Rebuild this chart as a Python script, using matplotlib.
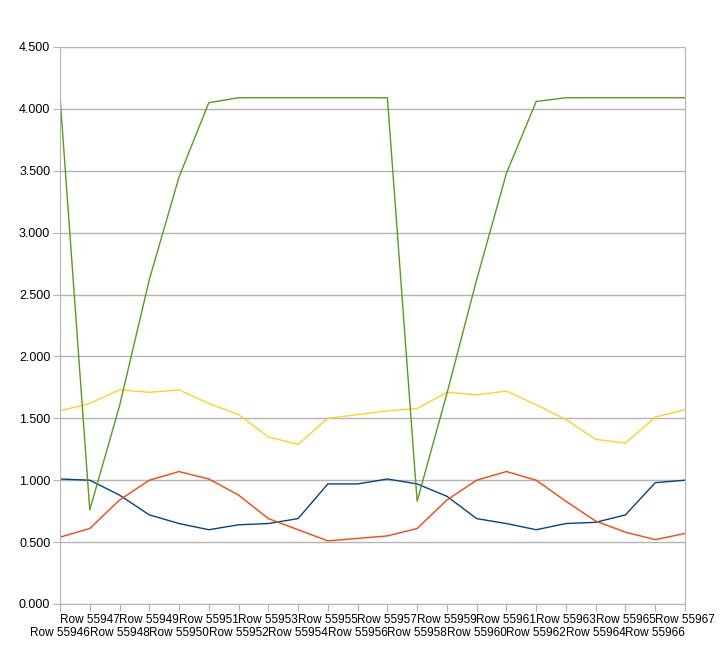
import matplotlib
matplotlib.use("Agg")
import matplotlib.pyplot as plt
from matplotlib.ticker import MultipleLocator, FormatStrFormatter

categories = ["Row %d" % n for n in range(55946, 55968)]

blue = [1.01, 1.00, 0.88, 0.72, 0.65, 0.60, 0.64, 0.65, 0.69, 0.97, 0.97, 1.01,
        0.97, 0.87, 0.69, 0.65, 0.60, 0.65, 0.66, 0.72, 0.98, 1.00]
red = [0.54, 0.61, 0.84, 1.00, 1.07, 1.01, 0.88, 0.69, 0.60, 0.51, 0.53, 0.55,
       0.61, 0.84, 1.00, 1.07, 1.00, 0.83, 0.67, 0.58, 0.52, 0.57]
yellow = [1.56, 1.62, 1.73, 1.71, 1.73, 1.62, 1.53, 1.35, 1.29, 1.50, 1.53, 1.56,
          1.58, 1.71, 1.69, 1.72, 1.61, 1.49, 1.33, 1.30, 1.51, 1.57]
green = [4.10, 0.76, 1.60, 2.62, 3.45, 4.05, 4.09, 4.09, 4.09, 4.09, 4.09, 4.09,
         0.83, 1.70, 2.62, 3.48, 4.06, 4.09, 4.09, 4.09, 4.09, 4.09]

plt.rcParams['font.family'] = ['Liberation Sans', 'DejaVu Sans']

fig = plt.figure(figsize=(7.27, 6.62), dpi=100)
ax = fig.add_axes([60/727, 1-604/662, 625/727, 557/662])

x = list(range(len(categories)))
ax.plot(x, blue, color="#004586", lw=1.0)
ax.plot(x, red, color="#ff420e", lw=1.0)
ax.plot(x, yellow, color="#ffd320", lw=1.0)
ax.plot(x, green, color="#579d1c", lw=1.0)

ax.set_xlim(0, len(categories)-1)
ax.set_ylim(0, 4.5)
ax.yaxis.set_major_locator(MultipleLocator(0.5))
ax.yaxis.set_major_formatter(FormatStrFormatter('%.3f'))
ax.grid(axis='y', color="#b3b3b3", lw=1.0)
ax.set_axisbelow(True)

ax.set_xticks(x)
ax.set_xticklabels(categories, fontsize=8.5)
ax.tick_params(axis='y', labelsize=9, length=5, color="#b3b3b3", pad=2)
ax.tick_params(axis='x', length=5, color="#b3b3b3", pad=2)
for i, t in enumerate(ax.xaxis.get_major_ticks()):
    if i % 2 == 0:
        t.set_pad(11.5)

for s in ['left', 'right', 'bottom']:
    ax.spines[s].set_color("#b3b3b3")
ax.spines['top'].set_visible(False)

fig.savefig("out.png", dpi=100)
